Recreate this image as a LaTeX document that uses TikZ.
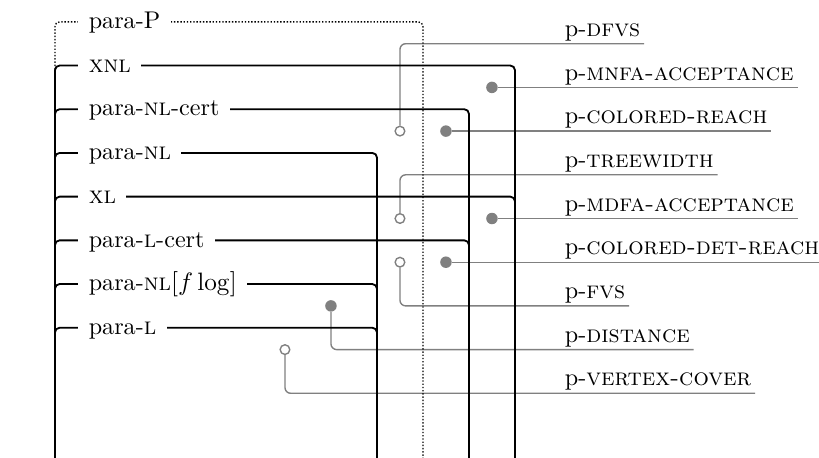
\documentclass[tikz,border=0pt]{standalone}
\usepackage{amsmath}

\tikzset{
  class/.style={line width=0.8pt, rounded corners=2pt},
  pclass/.style={line width=0.6pt, dash pattern=on 0.6pt off 0.8pt, rounded corners=2pt},
  clabel/.style={fill=white, anchor=base west, inner xsep=4.5pt, inner ysep=1pt, yshift=-2.9pt},
  plabel/.style={anchor=south west, inner xsep=1.5pt, inner ysep=3pt, text depth=0pt},
  link/.style={draw=black!50, line width=0.6pt, rounded corners=2.5pt},
  fulldot/.style={circle, fill=black!50, inner sep=0pt, minimum size=5pt},
  opendot/.style={circle, draw=black!50, fill=white, line width=0.6pt, inner sep=0pt, minimum size=4.2pt}
}

\begin{document}
\begin{tikzpicture}[x=10pt, y=-9.5pt, font=\fontsize{10.5pt}{12pt}\selectfont]
	\useasboundingbox (-2.39,0) rectangle (33.22,20.92);
	% problems
	\node[opendot] (dfvs-pt) at (15,6) {};
	\node[fulldot] (mnfa-pt) at (19,4) {};
	\node[fulldot] (creach-pt) at (17,6) {};
	\node[opendot] (tw-pt) at (15,10) {};
	\node[fulldot] (mdfa-pt) at (19,10) {};
	\node[fulldot] (cdreach-pt) at (17,12) {};
	\node[opendot] (fvs-pt) at (15,12) {};
	\node[fulldot] (dist-pt) at (12,14) {};
	\node[opendot] (vc-pt) at (10,16) {};
	\node[plabel] (dfvs) at (22,2) {p-\textsc{dfvs}};
	\node[plabel] (mnfa) at (22,4) {p-\textsc{mnfa-acceptance}};
	\node[plabel] (creach) at (22,6) {p-\textsc{colored-reach}};
	\node[plabel] (tw) at (22,8) {p-\textsc{treewidth}};
	\node[plabel] (mdfa) at (22,10) {p-\textsc{mdfa-acceptance}};
	\node[plabel] (cdreach) at (22,12) {p-\textsc{colored-det-reach}};
	\node[plabel] (fvs) at (22,14) {p-\textsc{fvs}};
	\node[plabel] (dist) at (22,16) {p-\textsc{distance}};
	\node[plabel] (vc) at (22,18) {p-\textsc{vertex-cover}};
	\draw[link] (dfvs-pt) |- (dfvs.south east);
	\draw[link] (mnfa-pt) -- (mnfa.south east);
	\draw[link] (creach-pt) -- (creach.south east);
	\draw[link] (tw-pt) |- (tw.south east);
	\draw[link] (mdfa-pt) -- (mdfa.south east);
	\draw[link] (cdreach-pt) -- (cdreach.south east);
	\draw[link] (fvs-pt) |- (fvs.south east);
	\draw[link] (dist-pt) |- (dist.south east);
	\draw[link] (vc-pt) |- (vc.south east);
	% classes
	\draw[pclass] (0,21) -- (0,1) -- (16,1) -- (16,21);
	\draw[class] (0,21) -- (0,3) -- (20,3) -- (20,21);
	\draw[class] (0,21) -- (0,5) -- (18,5) -- (18,21);
	\draw[class] (0,21) -- (0,7) -- (14,7) -- (14,21);
	\draw[class] (0,21) -- (0,9) -- (20,9) -- (20,21);
	\draw[class] (0,21) -- (0,11) -- (18,11) -- (18,21);
	\draw[class] (0,21) -- (0,13) -- (14,13) -- (14,21);
	\draw[class] (0,21) -- (0,15) -- (14,15) -- (14,21);
	\node[clabel] (parap) at (1,1) {para-P};
	\node[clabel] (xnl) at (1,3) {\textsc{xnl}};
	\node[clabel] (nlcert) at (1,5) {para-\textsc{nl}-cert};
	\node[clabel] (paranl) at (1,7) {para-\textsc{nl}};
	\node[clabel] (xl) at (1,9) {\textsc{xl}};
	\node[clabel] (lcert) at (1,11) {para-\textsc{l}-cert};
	\node[clabel] (nlflog) at (1,13) {para-\textsc{nl}$[f\log]$};
	\node[clabel] (paral) at (1,15) {para-\textsc{l}};
\end{tikzpicture}
\end{document}
